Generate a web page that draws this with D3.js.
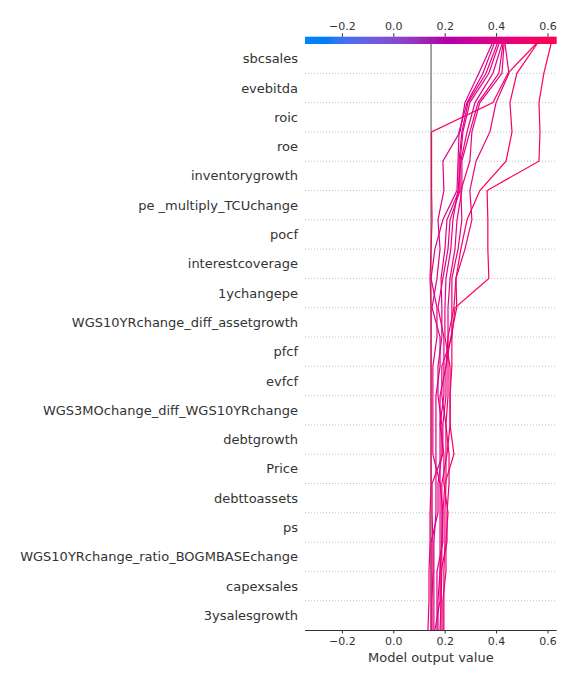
<!DOCTYPE html>
<html><head><meta charset="utf-8">
<script src="https://cdn.jsdelivr.net/npm/d3@7"></script>
<style>body{margin:0;background:#fff} text{font-family:"DejaVu Sans",sans-serif}</style>
</head><body>
<svg id="chart" width="576" height="684"></svg>
<script>
// Features, top to bottom
const features = ["sbcsales","evebitda","roic","roe","inventorygrowth","pe _multiply_TCUchange","pocf",
  "interestcoverage","1ychangepe","WGS10YRchange_diff_assetgrowth","pfcf","evfcf",
  "WGS3MOchange_diff_WGS10YRchange","debtgrowth","Price","debttoassets","ps",
  "WGS10YRchange_ratio_BOGMBASEchange","capexsales","3ysalesgrowth"];
const xTicks = [-0.2, 0.0, 0.2, 0.4, 0.6];
const xDomain = [-0.3436, 0.636];
const baseValue = 0.147;
// cumulative model output per observation, from bottom (start) to top (final output)
const obsA = [0.186,0.186,0.189,0.189,0.193,0.201,0.236,0.221,0.221,0.228,0.228,0.240,0.372,0.368,0.368,0.365,0.567,0.571,0.567,0.586,0.614];
const obsB = [0.197,0.197,0.197,0.201,0.201,0.205,0.205,0.205,0.213,0.213,0.213,0.236,0.244,0.263,0.287,0.337,0.439,0.462,0.454,0.481,0.559];
const obsC = [0.135,0.139,0.139,0.143,0.143,0.147,0.147,0.147,0.147,0.147,0.147,0.147,0.143,0.147,0.151,0.149,0.149,0.149,0.388,0.446,0.555];
const obsD = [0.158,0.158,0.158,0.158,0.166,0.166,0.166,0.166,0.166,0.182,0.182,0.151,0.170,0.182,0.174,0.197,0.193,0.260,0.279,0.333,0.384];
const obsE = [0.174,0.174,0.182,0.182,0.182,0.182,0.154,0.154,0.154,0.154,0.170,0.170,0.147,0.162,0.193,0.248,0.252,0.256,0.287,0.349,0.392];
const obsF = [0.147,0.147,0.147,0.147,0.174,0.174,0.189,0.189,0.174,0.174,0.189,0.189,0.186,0.201,0.209,0.256,0.256,0.267,0.291,0.361,0.404];
const obsG = [0.170,0.170,0.170,0.193,0.193,0.182,0.182,0.182,0.197,0.197,0.197,0.174,0.193,0.213,0.221,0.260,0.260,0.271,0.298,0.372,0.411];
const obsH = [0.162,0.182,0.182,0.189,0.189,0.189,0.209,0.221,0.221,0.221,0.201,0.201,0.205,0.224,0.232,0.252,0.263,0.287,0.318,0.388,0.423];
const obsI = [0.193,0.193,0.205,0.205,0.213,0.197,0.197,0.182,0.182,0.205,0.213,0.213,0.221,0.240,0.248,0.267,0.267,0.298,0.330,0.411,0.427];
const obsJ = [0.182,0.186,0.186,0.209,0.209,0.217,0.217,0.205,0.189,0.189,0.228,0.228,0.228,0.252,0.267,0.263,0.298,0.306,0.337,0.423,0.431];
const obsK = [0.151,0.151,0.154,0.154,0.151,0.151,0.193,0.193,0.205,0.205,0.224,0.247,0.244,0.279,0.306,0.298,0.322,0.376,0.400,0.450,0.435];
const observations = [obsA,obsB,obsC,obsD,obsE,obsF,obsG,obsH,obsI,obsJ,obsK];

const svg = d3.select("#chart");
const pL = 305, pR = 556.7, pT = 44, pB = 630;
const n = features.length;
const x = d3.scaleLinear().domain(xDomain).range([pL, pR]);
const y = d3.scaleLinear().domain([0, n]).range([pB, pT]);

// shap red-blue colormap (LCH interpolation)
function redBlue(t) {
  t = Math.max(0, Math.min(1, t));
  const l = t < 0.5 ? 54 - 28 * t : 40 + 28 * (t - 0.5);
  const c = 70 + 20 * t;
  const hRad = 4.6588 + t * ((0.35470565 + 2 * Math.PI) - 4.6588);
  const h = hRad * 180 / Math.PI;
  return d3.hcl(h, c, l).formatHex();
}
const norm = d3.scaleLinear().domain(xDomain).range([0, 1]).clamp(true);

// colorbar
const defs = svg.append("defs");
const grad = defs.append("linearGradient").attr("id", "cb").attr("x1", "0%").attr("x2", "100%");
d3.range(0, 1.0001, 0.02).forEach(t => grad.append("stop").attr("offset", (t * 100) + "%").attr("stop-color", redBlue(t)));
svg.append("rect").attr("x", pL).attr("y", 36.7).attr("width", pR - pL).attr("height", 7.3).attr("fill", "url(#cb)");
const cbAxis = svg.append("g").attr("transform", `translate(0,36.7)`)
  .call(d3.axisTop(x).tickValues(xTicks).tickSize(3.5).tickPadding(3.5).tickFormat(d => d3.format(".1f")(d).replace("-", "\u2212")));
cbAxis.select(".domain").remove();
cbAxis.selectAll("line").attr("stroke", "#333");
cbAxis.selectAll("text").attr("fill", "#333").style("font-size", "11px").style("font-family", "DejaVu Sans");

// dotted grid lines
for (let i = 1; i < n; i++) {
  svg.append("line").attr("x1", pL).attr("x2", pR).attr("y1", y(i)).attr("y2", y(i))
    .attr("stroke", "#c4c4c4").attr("stroke-width", 1).attr("stroke-dasharray", "1,2");
}

// base value line
svg.append("line").attr("x1", x(baseValue)).attr("x2", x(baseValue)).attr("y1", pT).attr("y2", pB)
  .attr("stroke", "#999999").attr("stroke-width", 1.8);

// observation lines
const line = d3.line().x(d => x(d)).y((d, k) => y(k));
observations.forEach(o => {
  svg.append("path").attr("d", line(o)).attr("fill", "none")
    .attr("stroke", redBlue(norm(o[o.length - 1]))).attr("stroke-width", 1.2);
});

// feature labels
features.forEach((f, i) => {
  svg.append("text").attr("x", 298).attr("y", y(n - i - 0.5)).attr("dy", "0.35em")
    .attr("text-anchor", "end").attr("fill", "#333").style("font-size", "13px").text(f);
});

// bottom axis
const xAxis = svg.append("g").attr("transform", `translate(0,${pB})`)
  .call(d3.axisBottom(x).tickValues(xTicks).tickSize(3.5).tickPadding(3.5).tickSizeOuter(0).tickFormat(d => d3.format(".1f")(d).replace("-", "\u2212")));
xAxis.select(".domain").attr("stroke", "#333").attr("d", `M${pL},0.5H${pR}`);
xAxis.selectAll("line").attr("stroke", "#333");
xAxis.selectAll("text").attr("fill", "#333").style("font-size", "11px").style("font-family", "DejaVu Sans");

svg.append("text").attr("x", (pL + pR) / 2).attr("y", 657).attr("dy", "0.35em")
  .attr("text-anchor", "middle").attr("fill", "#333").style("font-size", "13px").text("Model output value");
</script>
</body></html>
